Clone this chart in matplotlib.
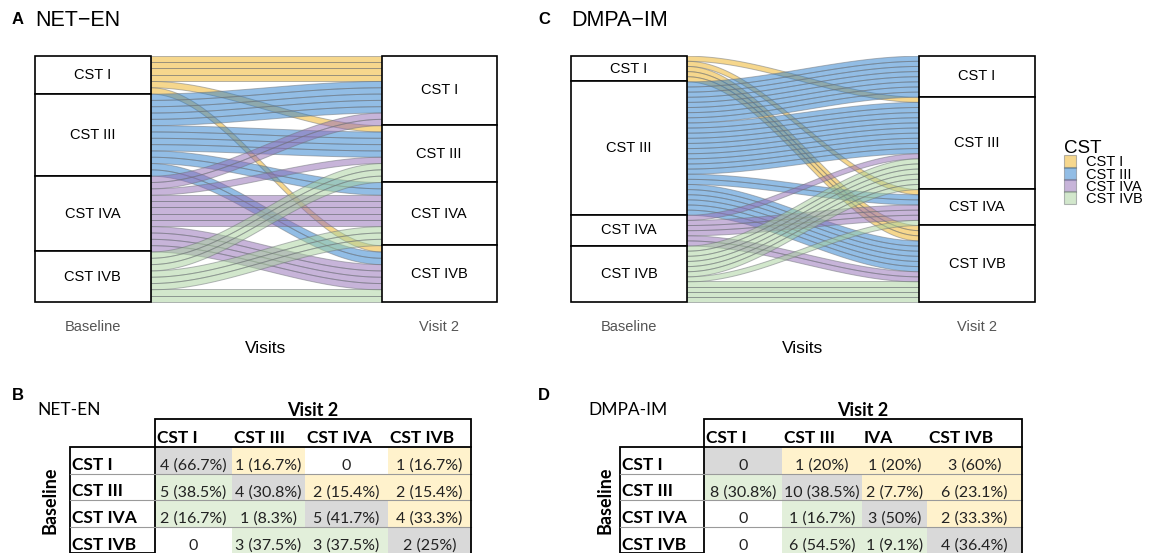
import numpy as np
import matplotlib
matplotlib.use("Agg")
import matplotlib.pyplot as plt
from matplotlib.patches import Rectangle, Patch

plt.rcParams['font.family'] = ['Liberation Sans', 'DejaVu Sans']

# community state types
cst = ["CST I", "CST III", "CST IVA", "CST IVB"]
cst_colors = ["#EFB11D", "#277DCD", "#916BB5", "#A7D19B"]

# transition counts: rows = baseline CST, columns = visit 2 CST
net_en = [[4, 1, 0, 1],
          [5, 4, 2, 2],
          [2, 1, 5, 4],
          [0, 3, 3, 2]]
dmpa_im = [[0, 1, 1, 3],
           [8, 10, 2, 6],
           [0, 1, 3, 2],
           [0, 6, 1, 4]]

net_en_header = ["CST I", "CST III", "CST IVA", "CST IVB"]
dmpa_im_header = ["CST I", "CST III", "IVA", "CST IVB"]
visits = ["Baseline", "Visit 2"]

W, H = 1150, 553
fig = plt.figure(figsize=(W / 100, H / 100), dpi=100)


def px_axes(x0, y0, x1, y1):
    return fig.add_axes([x0 / W, 1 - y1 / H, (x1 - x0) / W, (y1 - y0) / H])


page = fig.add_axes([0, 0, 1, 1])
page.set_xlim(0, W)
page.set_ylim(H, 0)
page.axis('off')


def alluvial(ax, counts, box_w=0.25):
    m = np.array(counts)
    left_tot = m.sum(axis=1)
    right_tot = m.sum(axis=0)
    left_start = np.concatenate([[0], np.cumsum(left_tot)[:-1]])
    right_start = np.concatenate([[0], np.cumsum(right_tot)[:-1]])
    t = np.linspace(0, 1, 80)
    s = 3 * t ** 2 - 2 * t ** 3
    x = box_w + (1 - 2 * box_w) * t
    for i in range(4):
        for j in range(4):
            for k in range(m[i, j]):
                # left ordered by destination, right ordered by origin
                y0 = left_start[i] + m[i, :j].sum() + k
                y1 = right_start[j] + m[:i, j].sum() + k
                top = y0 + (y1 - y0) * s
                ax.fill_between(x, top, top + 1, facecolor=cst_colors[i], alpha=0.5,
                                edgecolor='#6f7378', lw=0.7)
    for side, starts, tots in [(0, left_start, left_tot), (1 - box_w, right_start, right_tot)]:
        for i in range(4):
            ax.add_patch(Rectangle((side, starts[i]), box_w, tots[i], facecolor='white',
                                   edgecolor='black', lw=1.2, clip_on=False, zorder=3))
            ax.text(side + box_w / 2, starts[i] + tots[i] / 2, cst[i], ha='center', va='center',
                    fontsize=10.5, zorder=4)
    ax.set_xlim(0, 1)
    ax.set_ylim(m.sum(), 0)
    ax.set_xticks([box_w / 2, 1 - box_w / 2], visits)
    ax.tick_params(axis='x', length=0, pad=13, labelcolor='#555555', labelsize=10.5)
    ax.set_yticks([])
    for sp in ax.spines.values():
        sp.set_visible(False)
    ax.set_xlabel("Visits", fontsize=12.5, labelpad=5)


axA = px_axes(35, 55.7, 497, 302)
alluvial(axA, net_en)
axC = px_axes(571, 55.7, 1035, 302)
alluvial(axC, dmpa_im)

page.text(12, 20, "A", fontsize=12, weight='bold', va='center')
page.text(35, 21, "NET\u2212EN", fontsize=15.5, va='center')
page.text(538, 20, "C", fontsize=12, weight='bold', va='center')
page.text(571, 21, "DMPA\u2212IM", fontsize=15.5, va='center')

handles = [Patch(facecolor=c, edgecolor='#6f7378', alpha=0.5, lw=0.8) for c in cst_colors]
fig.legend(handles, cst, loc='upper left', bbox_to_anchor=(1057 / W, 1 - 133 / H),
           frameon=False, title="CST", title_fontsize=13.5, fontsize=10.5,
           labelspacing=-0.15, handlelength=0.8, handleheight=0.95, handletextpad=0.7,
           alignment='left', borderpad=0)


def pct_text(n, row_total):
    if n == 0:
        return "0"
    p = ('%.1f' % (100 * n / row_total)).rstrip('0').rstrip('.')
    return "%d (%s%%)" % (n, p)


def table(counts, header, name, name_x, base_x, label_x, cols):
    m = np.array(counts)
    tf = ['Lato', 'DejaVu Sans']
    head_top, head_bot = 419, 447
    row_h = 26.5
    rows = [head_bot + r * row_h for r in range(5)]
    page.text(name_x, 410, name, fontsize=12.5, family=tf, va='center')
    page.text((cols[0] + cols[-1]) / 2, 410, "Visit 2", fontsize=13, weight='bold',
              family=tf, ha='center', va='center')
    page.text(base_x, (rows[0] + rows[-1]) / 2, "Baseline", fontsize=13, weight='bold',
              family=tf, rotation=90, ha='center', va='center')
    for j in range(4):
        page.text(cols[j] + 2, head_bot - 4, header[j], fontsize=12.5, weight='bold',
                  family=tf, va='baseline')
    for i in range(4):
        page.text(label_x + 2, rows[i + 1] - 3.5, cst[i], fontsize=12.5, weight='bold',
                  family=tf, va='baseline')
        for j in range(4):
            if i == j:
                bg = '#D9D9D9'
            elif m[i, j] == 0:
                bg = 'white'
            elif j > i:
                bg = '#FFF2CC'
            else:
                bg = '#E2EFDA'
            page.add_patch(Rectangle((cols[j], rows[i]), cols[j + 1] - cols[j], row_h,
                                     facecolor=bg, edgecolor='none'))
            page.text((cols[j] + cols[j + 1]) / 2, rows[i + 1] - 3.5,
                      pct_text(m[i, j], m[i].sum()), fontsize=11.5, family=tf,
                      ha='center', va='baseline', color='#222222')
        if i > 0:
            page.plot([label_x, cols[-1]], [rows[i], rows[i]], color='#9a9a9a', lw=0.8)
    page.add_patch(Rectangle((cols[0], head_top), cols[-1] - cols[0], head_bot - head_top,
                             facecolor='none', edgecolor='black', lw=1.3))
    page.add_patch(Rectangle((label_x, head_bot), cols[0] - label_x, rows[-1] - head_bot,
                             facecolor='none', edgecolor='black', lw=1.3))
    page.plot([cols[-1], cols[-1]], [head_bot, rows[-1]], color='black', lw=1.3)


page.text(12, 395, "B", fontsize=12, weight='bold', va='center')
table(net_en, net_en_header, "NET-EN", 37, 50, 70, [155, 232, 305, 388, 471])
page.text(538, 395, "D", fontsize=12, weight='bold', va='center')
table(dmpa_im, dmpa_im_header, "DMPA-IM", 588, 605, 620, [704, 782, 862, 927, 1022])

fig.savefig("out.png", dpi=100)
